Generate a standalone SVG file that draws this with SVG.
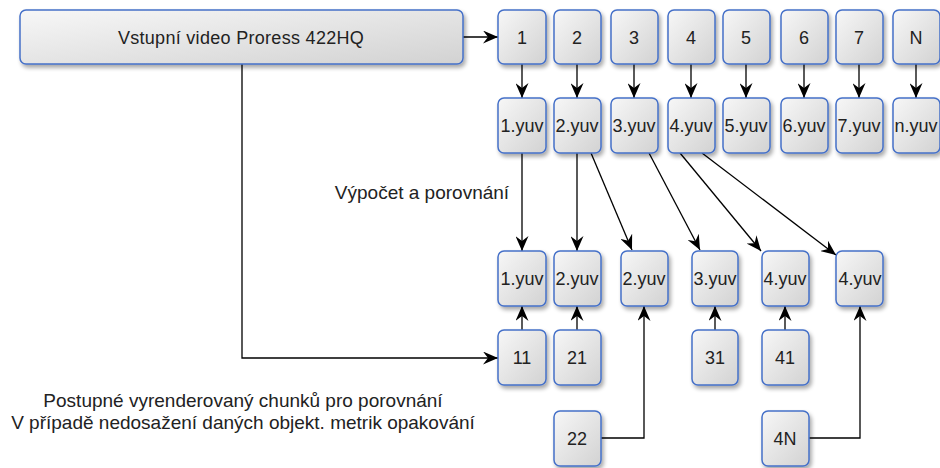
<svg xmlns="http://www.w3.org/2000/svg" width="940" height="468" viewBox="0 0 940 468">
  <defs>
    <linearGradient id="boxFill" x1="0" y1="0" x2="1" y2="1">
      <stop offset="0" stop-color="#f7f7f7"/>
      <stop offset="1" stop-color="#d2d2d2"/>
    </linearGradient>
    <filter id="shadow" x="-20%" y="-20%" width="150%" height="150%">
      <feGaussianBlur in="SourceAlpha" stdDeviation="2"/>
      <feOffset dx="2" dy="3" result="b"/>
      <feComponentTransfer><feFuncA type="linear" slope="0.35"/></feComponentTransfer>
      <feMerge><feMergeNode/><feMergeNode in="SourceGraphic"/></feMerge>
    </filter>
    <marker id="arrow" viewBox="0 0 15 13" markerWidth="15" markerHeight="13" refX="15" refY="6.5" orient="auto" markerUnits="userSpaceOnUse">
      <path d="M0,0 L15,6.5 L0,13 L5,6.5 Z" fill="#000"/>
    </marker>
  </defs>
  <style>
    .box { fill: url(#boxFill); stroke: #4570c8; stroke-width: 1.5; filter: url(#shadow); }
    .lbl { font-family: "Liberation Sans", Arial, sans-serif; font-size: 18px; fill: #222; text-anchor: middle; }
    .note { font-family: "Liberation Sans", Arial, sans-serif; font-size: 19px; fill: #222; text-anchor: middle; }
    .edge { fill: none; stroke: #000; stroke-width: 1.3; marker-end: url(#arrow); }
  </style>
  <rect width="940" height="468" fill="#fff"/>

  <!-- connectors -->
  <g id="connectors">
    <path class="edge" d="M463,37 L498,37"/>
    <path class="edge" d="M522,64 L522,98"/>
    <path class="edge" d="M577,64 L577,98"/>
    <path class="edge" d="M634,64 L634,98"/>
    <path class="edge" d="M691,64 L691,98"/>
    <path class="edge" d="M746,64 L746,98"/>
    <path class="edge" d="M804,64 L804,98"/>
    <path class="edge" d="M859,64 L859,98"/>
    <path class="edge" d="M916,64 L916,98"/>
    <path class="edge" d="M522,153 L522,251"/>
    <path class="edge" d="M577,153 L577,251"/>
    <path class="edge" d="M591,153 L632,250"/>
    <path class="edge" d="M649,153 L700,250"/>
    <path class="edge" d="M680,153 L761,251"/>
    <path class="edge" d="M702,153 L836,255"/>
    <path class="edge" d="M522,330 L522,306"/>
    <path class="edge" d="M577,330 L577,306"/>
    <path class="edge" d="M715,330 L715,306"/>
    <path class="edge" d="M785,330 L785,306"/>
    <path class="edge" d="M601,438 L644,438 L644,306"/>
    <path class="edge" d="M809,438 L860,438 L860,306"/>
    <path class="edge" d="M242,64 L242,358 L498,358"/>
  </g>

  <g id="input">
    <rect class="box" x="20" y="10" width="443" height="54" rx="6"/>
    <text class="lbl" x="241" y="44" font-size="19" letter-spacing="0.3">Vstupní video Proress 422HQ</text>
  </g>

  <!-- chunk row -->
  <g id="c1"><rect class="box" x="498" y="10" width="48" height="54" rx="6"/><text class="lbl" x="522" y="44">1</text></g>
  <g id="c2"><rect class="box" x="554" y="10" width="47" height="54" rx="6"/><text class="lbl" x="577" y="44">2</text></g>
  <g id="c3"><rect class="box" x="611" y="10" width="47" height="54" rx="6"/><text class="lbl" x="634" y="44">3</text></g>
  <g id="c4"><rect class="box" x="668" y="10" width="47" height="54" rx="6"/><text class="lbl" x="691" y="44">4</text></g>
  <g id="c5"><rect class="box" x="723" y="10" width="47" height="54" rx="6"/><text class="lbl" x="746" y="44">5</text></g>
  <g id="c6"><rect class="box" x="781" y="10" width="47" height="54" rx="6"/><text class="lbl" x="804" y="44">6</text></g>
  <g id="c7"><rect class="box" x="836" y="10" width="47" height="54" rx="6"/><text class="lbl" x="859" y="44">7</text></g>
  <g id="cN"><rect class="box" x="893" y="10" width="47" height="54" rx="6"/><text class="lbl" x="916" y="44">N</text></g>

  <!-- yuv row -->
  <g id="y1"><rect class="box" x="498" y="98" width="48" height="55" rx="6"/><text class="lbl" x="522" y="132">1.yuv</text></g>
  <g id="y2"><rect class="box" x="554" y="98" width="47" height="55" rx="6"/><text class="lbl" x="577" y="132">2.yuv</text></g>
  <g id="y3"><rect class="box" x="611" y="98" width="47" height="55" rx="6"/><text class="lbl" x="634" y="132">3.yuv</text></g>
  <g id="y4"><rect class="box" x="668" y="98" width="47" height="55" rx="6"/><text class="lbl" x="691" y="132">4.yuv</text></g>
  <g id="y5"><rect class="box" x="723" y="98" width="47" height="55" rx="6"/><text class="lbl" x="746" y="132">5.yuv</text></g>
  <g id="y6"><rect class="box" x="781" y="98" width="47" height="55" rx="6"/><text class="lbl" x="804" y="132">6.yuv</text></g>
  <g id="y7"><rect class="box" x="836" y="98" width="47" height="55" rx="6"/><text class="lbl" x="859" y="132">7.yuv</text></g>
  <g id="yN"><rect class="box" x="893" y="98" width="47" height="55" rx="6"/><text class="lbl" x="916" y="132">n.yuv</text></g>

  <!-- comparison row -->
  <g id="r1"><rect class="box" x="498" y="251" width="48" height="55" rx="6"/><text class="lbl" x="522" y="285">1.yuv</text></g>
  <g id="r2a"><rect class="box" x="554" y="251" width="47" height="55" rx="6"/><text class="lbl" x="577" y="285">2.yuv</text></g>
  <g id="r2b"><rect class="box" x="621" y="251" width="47" height="55" rx="6"/><text class="lbl" x="644" y="285">2.yuv</text></g>
  <g id="r3"><rect class="box" x="692" y="251" width="46" height="55" rx="6"/><text class="lbl" x="715" y="285">3.yuv</text></g>
  <g id="r4a"><rect class="box" x="762" y="251" width="47" height="55" rx="6"/><text class="lbl" x="785" y="285">4.yuv</text></g>
  <g id="r4b"><rect class="box" x="836" y="251" width="47" height="55" rx="6"/><text class="lbl" x="860" y="285">4.yuv</text></g>

  <!-- render passes -->
  <g id="p11"><rect class="box" x="498" y="330" width="48" height="55" rx="6"/><text class="lbl" x="522" y="364">11</text></g>
  <g id="p21"><rect class="box" x="554" y="330" width="47" height="55" rx="6"/><text class="lbl" x="577" y="364">21</text></g>
  <g id="p31"><rect class="box" x="692" y="330" width="46" height="55" rx="6"/><text class="lbl" x="715" y="364">31</text></g>
  <g id="p41"><rect class="box" x="762" y="330" width="47" height="55" rx="6"/><text class="lbl" x="785" y="364">41</text></g>
  <g id="p22"><rect class="box" x="554" y="411" width="47" height="55" rx="6"/><text class="lbl" x="577" y="445">22</text></g>
  <g id="p4N"><rect class="box" x="762" y="411" width="47" height="55" rx="6"/><text class="lbl" x="785" y="445">4N</text></g>

  <!-- annotations -->
  <text class="note" x="422" y="199">Výpočet a porovnání</text>
  <text class="note" x="243" y="407">Postupné vyrenderovaný chunků pro porovnání</text>
  <text class="note" x="243" y="429">V případě nedosažení daných objekt. metrik opakování</text>
</svg>
